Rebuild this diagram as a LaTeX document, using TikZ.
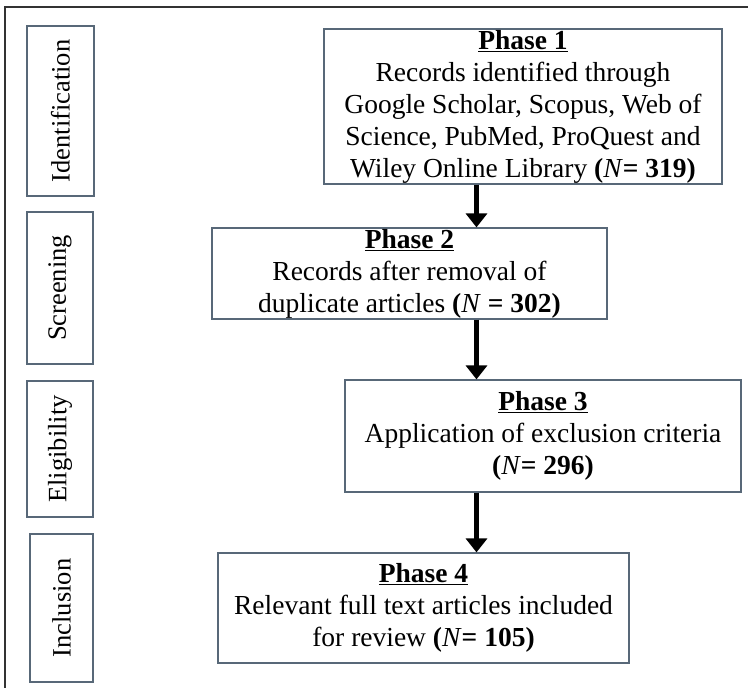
\documentclass[tikz,border=0pt]{standalone}
\usepackage{fontspec}
\setmainfont{Liberation Serif}
\usetikzlibrary{arrows.meta}
\definecolor{boxline}{RGB}{88,104,120}
\newcommand{\phase}[1]{\underline{\textbf{#1}}}
\newcommand{\numN}[1]{\textbf{(}\textit{N}\textbf{#1)}}

\begin{document}
\begin{tikzpicture}[x=1pt,y=-1pt]

    \tikzset{
      PhaseStyle/.style = { draw=boxline, line width=1.2pt, align=center,
                            inner sep=0pt, font=\fontsize{27.5}{32}\selectfont },
      StageStyle/.style = { draw=boxline, line width=1.2pt, rotate=90,
                            inner sep=0pt, font=\fontsize{26.5}{32}\selectfont },
      FlowStyle/.style = { line width=5.5pt, -{Triangle[width=21pt,length=14pt]} } }

      \useasboundingbox (0,0) rectangle (748,688);
      \draw[line width=1.5pt, black!80] (5,688) -- (5,7) -- (748,7);

      % stages on the left
      \node[StageStyle, minimum width=170, minimum height=67] (st1) at (60.5,111) {Identification};
      \node[StageStyle, minimum width=152, minimum height=66] (st2) at (60,288) {Screening};
      \node[StageStyle, minimum width=136, minimum height=66] (st3) at (60,449) {Eligibility};
      \node[StageStyle, minimum width=148, minimum height=63] (st4) at (61.5,608) {Inclusion};

      % phases
      \node[PhaseStyle, minimum width=398, minimum height=155] (p1) at (523,106.5)
        {\phase{Phase 1}\\Records identified through\\Google Scholar, Scopus, Web of\\
         Science, PubMed, ProQuest and\\Wiley Online Library \numN{= 319}};
      \node[PhaseStyle, minimum width=395, minimum height=91] (p2) at (409.5,273.5)
        {\phase{Phase 2}\\Records after removal of\\duplicate articles \numN{ = 302}};
      \node[PhaseStyle, minimum width=396, minimum height=112] (p3) at (543,436)
        {\phase{Phase 3}\\Application of exclusion criteria\\\numN{= 296}};
      \node[PhaseStyle, minimum width=411, minimum height=110] (p4) at (423.5,608)
        {\phase{Phase 4}\\Relevant full text articles included\\for review \numN{= 105}};

      \coordinate (ax) at (476.5,0);
      \draw[FlowStyle] (p1.south -| ax) -- (p2.north -| ax);
      \draw[FlowStyle] (p2.south -| ax) -- (p3.north -| ax);
      \draw[FlowStyle] (p3.south -| ax) -- (p4.north -| ax);

\end{tikzpicture}
\end{document}
